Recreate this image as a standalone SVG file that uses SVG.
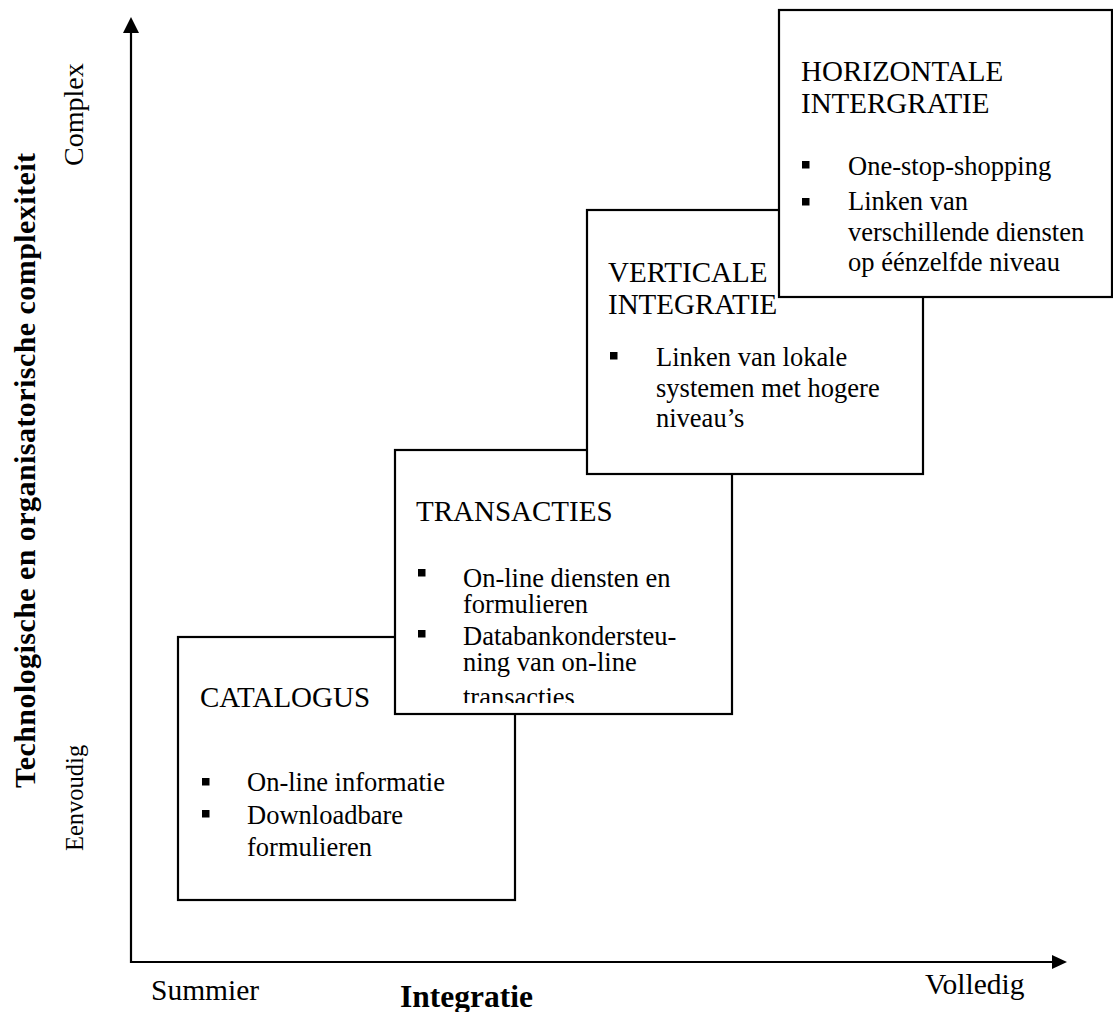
<svg xmlns="http://www.w3.org/2000/svg" width="1113" height="1012" viewBox="0 0 1113 1012">
<style>
.box{fill:#fff;stroke:#000;stroke-width:2.2}
.t{font-family:"Liberation Serif","Times New Roman",serif;font-size:29px;fill:#000}
.b{font-family:"Liberation Serif","Times New Roman",serif;font-size:26.5px;fill:#000}
.lab{font-family:"Liberation Serif","Times New Roman",serif;font-size:29.5px;fill:#000}
.bold{font-family:"Liberation Serif","Times New Roman",serif;font-size:31.5px;font-weight:bold;fill:#000}
.ax{stroke:#000;stroke-width:2.2;fill:none}
.bul{fill:#000}
</style>
<defs>
<clipPath id="clipTrans"><rect x="395" y="450" width="337" height="253"/></clipPath>
</defs>
<rect width="1113" height="1012" fill="#fff"/>
<g id="connectors">
<line class="ax" x1="131" y1="963" x2="131" y2="32"/>
<polygon points="131,17 139,33 123,33" fill="#000"/>
<line class="ax" x1="130" y1="962" x2="1053" y2="962"/>
<polygon points="1067,962 1052,955 1052,969" fill="#000"/>
</g>
<g id="axis-labels">
<text class="bold" style="font-size:30px" transform="translate(35,788) rotate(-90)" textLength="635" lengthAdjust="spacing">Technologische en organisatorische complexiteit</text>
<text class="lab" style="font-size:28px" transform="translate(83,166) rotate(-90)">Complex</text>
<text class="lab" style="font-size:24.5px" transform="translate(83,851) rotate(-90)">Eenvoudig</text>
<text class="lab" x="151" y="1000">Summier</text>
<text class="bold" x="400" y="1007">Integratie</text>
<text class="lab" x="925" y="994">Volledig</text>
</g>
<g id="catalogus">
<rect class="box" x="178" y="637" width="337" height="263"/>
<text class="t" x="200" y="707">CATALOGUS</text>
<rect class="bul" x="202" y="778" width="7.5" height="7.5"/>
<text class="b" x="247" y="791">On-line informatie</text>
<rect class="bul" x="202" y="810" width="7.5" height="7.5"/>
<text class="b" x="247" y="824">Downloadbare</text>
<text class="b" x="247" y="856">formulieren</text>
</g>
<g id="transacties">
<rect class="box" x="395" y="450" width="337" height="264"/>
<g clip-path="url(#clipTrans)">
<text class="t" x="416" y="521">TRANSACTIES</text>
<rect class="bul" x="418" y="569" width="7.5" height="7.5"/>
<text class="b" x="463" y="587">On-line diensten en</text>
<text class="b" x="463" y="613">formulieren</text>
<rect class="bul" x="418" y="630" width="7.5" height="7.5"/>
<text class="b" x="463" y="645">Databankondersteu-</text>
<text class="b" x="463" y="671">ning van on-line</text>
<text class="b" x="463" y="706">transacties</text>
</g>
</g>
<g id="verticale">
<rect class="box" x="587" y="210" width="336" height="264"/>
<text class="t" x="608" y="282">VERTICALE</text>
<text class="t" x="608" y="314">INTEGRATIE</text>
<rect class="bul" x="610" y="352" width="7.5" height="7.5"/>
<text class="b" x="656" y="366">Linken van lokale</text>
<text class="b" x="656" y="397">systemen met hogere</text>
<text class="b" x="656" y="427">niveau’s</text>
</g>
<g id="horizontale">
<rect class="box" x="779" y="10" width="333" height="287"/>
<text class="t" x="801" y="81">HORIZONTALE</text>
<text class="t" x="801" y="113">INTERGRATIE</text>
<rect class="bul" x="802" y="161" width="7.5" height="7.5"/>
<text class="b" x="848" y="175">One-stop-shopping</text>
<rect class="bul" x="802" y="198" width="7.5" height="7.5"/>
<text class="b" x="848" y="210">Linken van</text>
<text class="b" x="848" y="241">verschillende diensten</text>
<text class="b" x="848" y="271">op éénzelfde niveau</text>
</g>
</svg>
